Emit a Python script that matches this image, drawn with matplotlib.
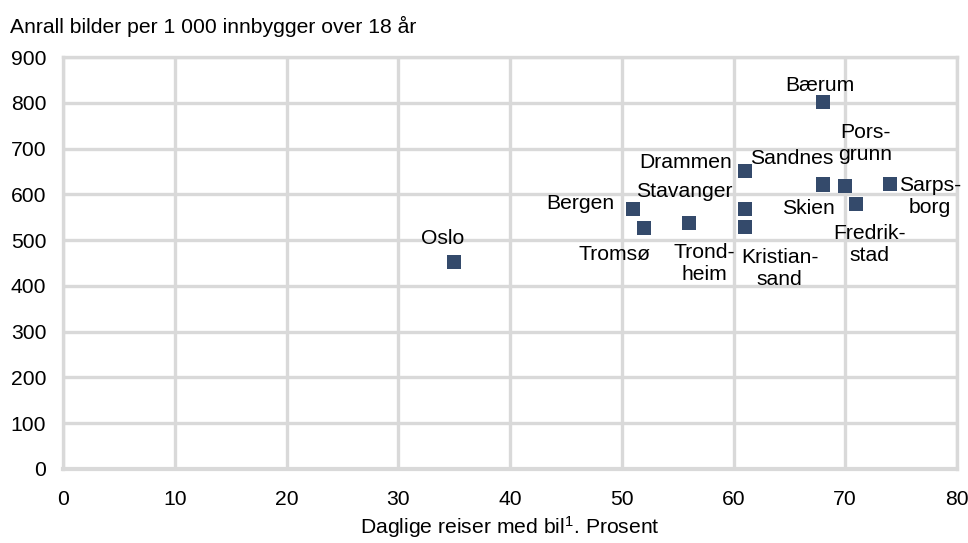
import matplotlib
matplotlib.use("Agg")
import matplotlib.pyplot as plt

# data
cities = ["Oslo", "Bergen", "Tromsø", "Trond-\nheim", "Stavanger", "Kristian-\nsand",
          "Drammen", "Sandnes", "Skien", "Bærum", "Pors-\ngrunn", "Fredrik-\nstad", "Sarps-\nborg"]
car_share = [35, 51, 52, 56, 61, 61, 61, 68, 68, 68, 70, 71, 74]
cars_per_1000 = [453, 567, 526, 538, 568, 529, 651, 622, 620, 802, 618, 579, 623]

# label offsets from each point, in pixels (x right, y up)
label_offsets = [(-12, 23), (-53, 6), (-30, -26), (16, -41), (-60, 17), (35, -42),
                 (-59, 8), (-31, 26), (-14, -23), (-3, 16), (20, 43), (13, -41), (40, -13)]

plt.rcParams['font.family'] = ['Liberation Sans', 'DejaVu Sans']
plt.rcParams['font.size'] = 15.2
plt.rcParams['mathtext.fontset'] = 'custom'
plt.rcParams['mathtext.rm'] = 'Liberation Sans'
plt.rcParams['mathtext.default'] = 'rm'

grid_col = "#d9d9d9"
dot_col = "#344a6b"

fig = plt.figure(figsize=(9.68, 5.43), dpi=100)
ax = fig.add_axes([63 / 968, 1 - 469 / 543, (957 - 63) / 968, (469 - 57) / 543])

ax.scatter(car_share, cars_per_1000, marker="s", s=100, color=dot_col, zorder=3,
           linewidths=0)

for name, x, y, off in zip(cities, car_share, cars_per_1000, label_offsets):
    ax.annotate(name, (x, y), xytext=off, textcoords="offset pixels",
                ha="center", va="center", multialignment="center", zorder=4)

ax.set_xlim(0, 80)
ax.set_ylim(0, 900)
ax.set_xticks(range(0, 81, 10))
ax.set_yticks(range(0, 901, 100))
ax.grid(True, color=grid_col, linewidth=2.4, zorder=0)
ax.set_axisbelow(True)
for side in ["top", "right", "left"]:
    ax.spines[side].set_color(grid_col)
    ax.spines[side].set_linewidth(2.4)
ax.spines["bottom"].set_color(grid_col)
ax.spines["bottom"].set_linewidth(3)
ax.tick_params(length=0)
ax.tick_params(axis="x", pad=15)
ax.tick_params(axis="y", pad=12)

ax.set_xlabel("Daglige reiser med bil$^{1}$. Prosent", labelpad=4)
fig.text(10 / 968, 1 - 26 / 543, "Anrall bilder per 1 000 innbygger over 18 år",
         ha="left", va="center")

fig.savefig("out.png", dpi=100)
